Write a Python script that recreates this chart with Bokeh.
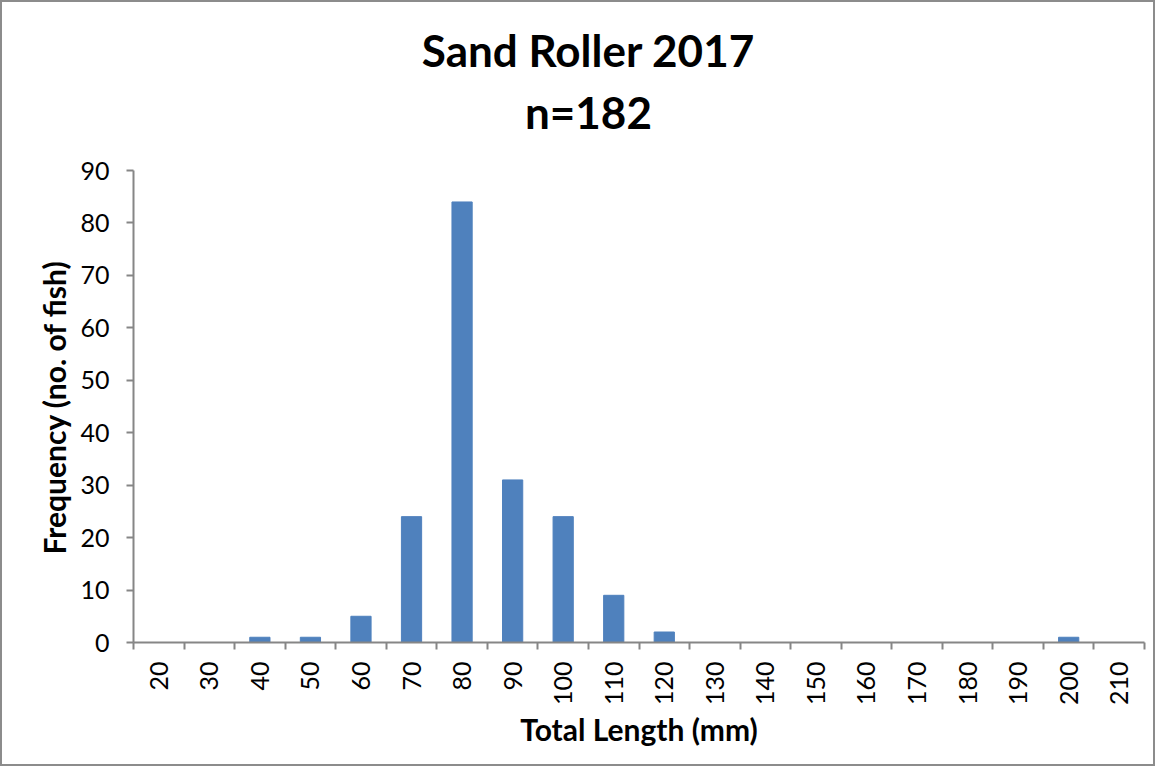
from bokeh.plotting import figure
from bokeh.models import FixedTicker, Range1d, Label, Title
from bokeh.embed import file_html
from bokeh.resources import INLINE

lengths = ["20", "30", "40", "50", "60", "70", "80", "90", "100", "110", "120",
           "130", "140", "150", "160", "170", "180", "190", "200", "210"]
frequency = [0, 0, 1, 1, 5, 24, 84, 31, 24, 9, 2, 0, 0, 0, 0, 0, 0, 0, 1, 0]
y_ticks = [0, 10, 20, 30, 40, 50, 60, 70, 80, 90]
title_lines = ["Sand Roller 2017", "n=182"]
x_label = "Total Length (mm)"
y_label = "Frequency (no. of fish)"

centers = [i + 0.5 for i in range(len(lengths))]
FONT = "Lato"
AXIS_COLOR = "#868686"

W, H = 1155, 766
TOP, BOTTOM, LEFT, RIGHT = 10, 126, 131, 13
axis_px = 472                       # pixel height of the 0..90 span
frame_px = H - TOP - BOTTOM
y_max = 90 * frame_px / axis_px     # extend range so title sits inside frame

p = figure(width=W, height=H, output_backend="svg", toolbar_location=None,
           x_range=Range1d(0, len(lengths)), y_range=Range1d(0, y_max))
p.min_border_left = LEFT
p.min_border_top = TOP
p.min_border_bottom = BOTTOM
p.min_border_right = RIGHT
p.styles = {"border": "2px solid #8c8c8c"}

p.vbar(x=centers, top=frequency, width=0.4, color="#4F81BD")

# two-line title, centred on the whole chart area
for txt, ypos in zip(title_lines, [113.0, 101.2]):
    p.add_layout(Label(x=9.0, y=ypos, text=txt, text_align="center",
                       text_baseline="alphabetic", text_font=FONT,
                       text_font_size="44px", text_font_style="bold",
                       text_color="black"))

p.xgrid.visible = False
p.ygrid.visible = False
p.outline_line_color = None

xa = p.xaxis[0]
xa.ticker = FixedTicker(ticks=centers, minor_ticks=list(range(len(lengths) + 1)))
xa.major_label_overrides = {c: l for c, l in zip(centers, lengths)}
xa.major_label_orientation = 3.14159265 / 2
xa.major_tick_line_color = None
xa.minor_tick_out = 7
xa.minor_tick_in = 0
xa.minor_tick_line_color = AXIS_COLOR
xa.minor_tick_line_width = 2
xa.axis_line_color = AXIS_COLOR
xa.axis_line_width = 2
xa.major_label_text_font = FONT
xa.major_label_text_font_size = "25px"
xa.major_label_text_color = "black"
xa.major_label_standoff = 12
xa.axis_label = x_label
xa.axis_label_text_font = FONT
xa.axis_label_text_font_size = "30px"
xa.axis_label_text_font_style = "bold"
xa.axis_label_text_color = "black"
xa.axis_label_standoff = 3

ya = p.yaxis[0]
ya.bounds = (0, 90)
ya.ticker = FixedTicker(ticks=y_ticks, minor_ticks=[])
ya.major_tick_out = 7
ya.major_tick_in = 0
ya.major_tick_line_color = AXIS_COLOR
ya.major_tick_line_width = 2
ya.axis_line_color = AXIS_COLOR
ya.axis_line_width = 2
ya.major_label_text_font = FONT
ya.major_label_text_font_size = "25px"
ya.major_label_text_color = "black"
ya.major_label_standoff = 17

# y-axis title, centred on the 0..90 span rather than the whole frame
p.add_layout(Title(text=y_label, align="left", offset=88, standoff=12,
                   text_font=FONT, text_font_size="30px",
                   text_font_style="bold", text_color="black"), "left")

open("out.html", "w").write(file_html(p, INLINE))
